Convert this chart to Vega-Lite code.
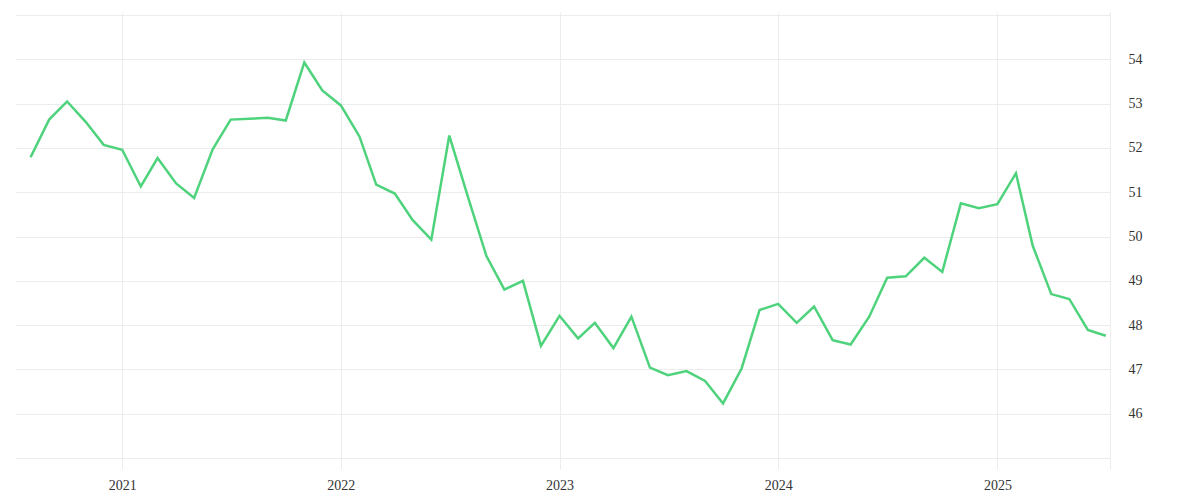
{
  "$schema": "https://vega.github.io/schema/vega-lite/v6.json",
  "autosize": "none",
  "width": 1095,
  "height": 457,
  "padding": {"left": 15, "top": 12, "right": 90, "bottom": 31},
  "background": "#ffffff",
  "data": {
    "values": [
      {"date": "2020-08-01", "value": 51.79},
      {"date": "2020-09-01", "value": 52.64},
      {"date": "2020-10-01", "value": 53.05},
      {"date": "2020-11-01", "value": 52.59},
      {"date": "2020-12-01", "value": 52.07},
      {"date": "2021-01-01", "value": 51.96},
      {"date": "2021-02-01", "value": 51.13},
      {"date": "2021-03-01", "value": 51.77},
      {"date": "2021-04-01", "value": 51.2},
      {"date": "2021-05-01", "value": 50.87},
      {"date": "2021-06-01", "value": 51.97},
      {"date": "2021-07-01", "value": 52.64},
      {"date": "2021-08-01", "value": 52.66},
      {"date": "2021-09-01", "value": 52.68},
      {"date": "2021-10-01", "value": 52.62},
      {"date": "2021-11-01", "value": 53.93},
      {"date": "2021-12-01", "value": 53.3},
      {"date": "2022-01-01", "value": 52.96},
      {"date": "2022-02-01", "value": 52.26},
      {"date": "2022-03-01", "value": 51.17},
      {"date": "2022-04-01", "value": 50.97},
      {"date": "2022-05-01", "value": 50.37},
      {"date": "2022-06-01", "value": 49.93},
      {"date": "2022-07-01", "value": 52.28},
      {"date": "2022-08-01", "value": 50.9},
      {"date": "2022-09-01", "value": 49.56},
      {"date": "2022-10-01", "value": 48.8},
      {"date": "2022-11-01", "value": 49.0},
      {"date": "2022-12-01", "value": 47.53},
      {"date": "2023-01-01", "value": 48.21},
      {"date": "2023-02-01", "value": 47.7},
      {"date": "2023-03-01", "value": 48.05},
      {"date": "2023-04-01", "value": 47.48},
      {"date": "2023-05-01", "value": 48.19},
      {"date": "2023-06-01", "value": 47.04},
      {"date": "2023-07-01", "value": 46.87},
      {"date": "2023-08-01", "value": 46.96},
      {"date": "2023-09-01", "value": 46.74},
      {"date": "2023-10-01", "value": 46.23},
      {"date": "2023-11-01", "value": 47.02},
      {"date": "2023-12-01", "value": 48.34},
      {"date": "2024-01-01", "value": 48.48},
      {"date": "2024-02-01", "value": 48.05},
      {"date": "2024-03-01", "value": 48.42},
      {"date": "2024-04-01", "value": 47.66},
      {"date": "2024-05-01", "value": 47.56},
      {"date": "2024-06-01", "value": 48.19},
      {"date": "2024-07-01", "value": 49.07},
      {"date": "2024-08-01", "value": 49.1},
      {"date": "2024-09-01", "value": 49.52},
      {"date": "2024-10-01", "value": 49.2},
      {"date": "2024-11-01", "value": 50.75},
      {"date": "2024-12-01", "value": 50.64},
      {"date": "2025-01-01", "value": 50.73},
      {"date": "2025-02-01", "value": 51.43},
      {"date": "2025-03-01", "value": 49.79},
      {"date": "2025-04-01", "value": 48.7},
      {"date": "2025-05-01", "value": 48.59},
      {"date": "2025-06-01", "value": 47.89},
      {"date": "2025-07-01", "value": 47.76}
    ]
  },
  "mark": {"type": "line", "color": "#4ed37c", "strokeWidth": 2.5, "clip": true},
  "encoding": {
    "x": {
      "field": "date",
      "type": "temporal",
      "title": null,
      "scale": {
        "domain": [
          {"year": 2020, "month": 7, "date": 6},
          {"year": 2025, "month": 7, "date": 8}
        ]
      },
      "axis": {
        "tickCount": {"interval": "year"},
        "format": "%Y",
        "domain": false,
        "ticks": false,
        "labelPadding": 9,
        "labelAngle": 0
      }
    },
    "y": {
      "field": "value",
      "type": "quantitative",
      "title": null,
      "scale": {"domain": [44.75, 55.07], "nice": false, "zero": false},
      "axis": {
        "orient": "right",
        "values": [45, 46, 47, 48, 49, 50, 51, 52, 53, 54, 55],
        "labelExpr": "datum.value == 45 || datum.value == 55 ? '' : datum.label",
        "ticks": false,
        "domain": true,
        "domainColor": "#ececec",
        "labelPadding": 18
      }
    }
  },
  "config": {
    "view": {"stroke": null},
    "axis": {
      "gridColor": "#ececec",
      "gridWidth": 1,
      "labelFont": "Liberation Serif",
      "labelFontSize": 14,
      "labelColor": "#333333"
    }
  }
}
